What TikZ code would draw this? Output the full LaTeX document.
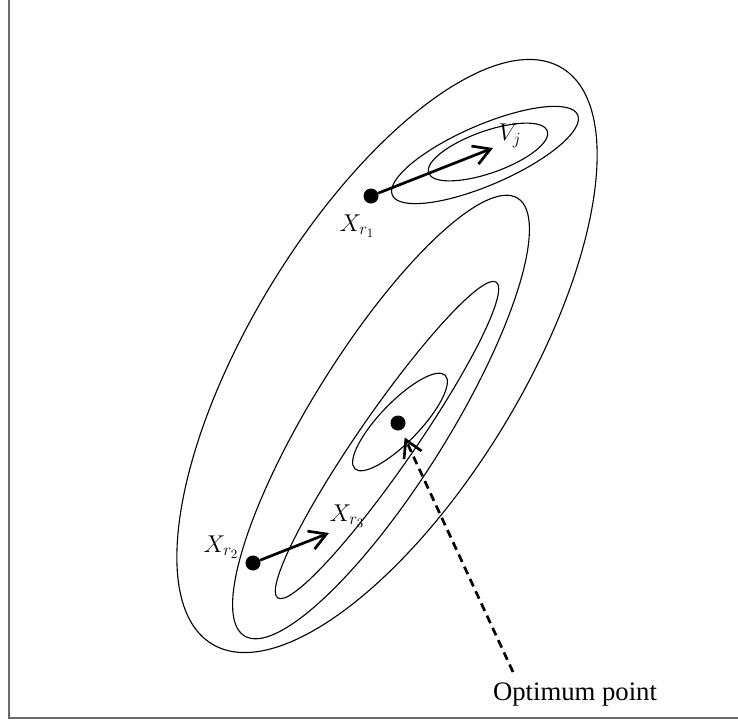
\documentclass[tikz,border=0pt]{standalone}
\usepackage{fontspec}
\setmainfont{Liberation Serif}
\usetikzlibrary{arrows.meta,positioning}
\definecolor{ctInk}{HTML}{000000}
\definecolor{ctFrame}{HTML}{6A6A6A}
\tikzset{
  ct frame/.style={draw=ctFrame, line width=1.2pt},
  ct contour/.style={draw=ctInk, line width=.95pt},
  ct dot/.style={circle, fill=ctInk, inner sep=0pt, minimum size=.45cm},
  ct move/.style={
    draw=ctInk,
    line width=2.3pt,
    -{Straight Barb[length=.5cm,width=.58cm]}
  },
  ct pointer/.style={
    draw=ctInk,
    line width=2.3pt,
    dash pattern=on 7pt off 4.5pt,
    -{Straight Barb[length=.5cm,width=.58cm]}
  },
  ct label/.style={font=\fontsize{22}{26}\selectfont, text=ctInk, inner sep=0pt},
  ct caption/.style={font=\fontsize{22.8}{27}\selectfont, text=ctInk, inner sep=0pt}
}

\begin{document}
\begin{tikzpicture}[x=.03cm,y=-.03cm]
  \useasboundingbox (0,0) rectangle (738,722);
  \draw[ct frame] (9,0) -- (9,718) -- (738,718);

  % level sets
  \draw[ct contour, rotate around={58.7:(387,356)}]
    (387,356) ellipse [x radius=337, y radius=136];
  \draw[ct contour, rotate around={23.4:(485,155)}]
    (485,155) ellipse [x radius=101, y radius=30];
  \draw[ct contour, rotate around={19.5:(488,152)}]
    (488,152) ellipse [x radius=63, y radius=21];
  \draw[ct contour, rotate around={58:(381,417)}]
    (381,417) ellipse [x radius=258, y radius=68];
  \draw[ct contour, rotate around={55.3:(387,440)}]
    (387,440) ellipse [x radius=192, y radius=28];
  \draw[ct contour, rotate around={46:(400,422)}]
    (400,422) ellipse [x radius=65, y radius=20];

  % search points
  \node[ct dot] (xr1) at (371,196) {};
  \node[ct dot] (opt) at (398,423) {};
  \node[ct dot] (xr2) at (253,563) {};
  \coordinate (vj) at (493,148);
  \coordinate (xr3) at (329,533);

  \node[ct label] (xr1 label) at (357,226) {$X_{r_1}$};
  \node[ct label] (vj label) at (510,136) {$V_j$};
  \node[ct label] (xr2 label) at (221,547) {$X_{r_2}$};
  \node[ct label] (xr3 label) at (347,516) {$X_{r_3}$};
  \node[ct caption] (caption) at (575,694) {Optimum point};
  \coordinate (foot) at (513,672);

  \draw[ct move] (xr1) -- (vj);
  \draw[ct move] (xr2) -- (xr3);
  \draw[ct pointer, shorten >=7pt] (foot) -- (opt);
\end{tikzpicture}
\end{document}
